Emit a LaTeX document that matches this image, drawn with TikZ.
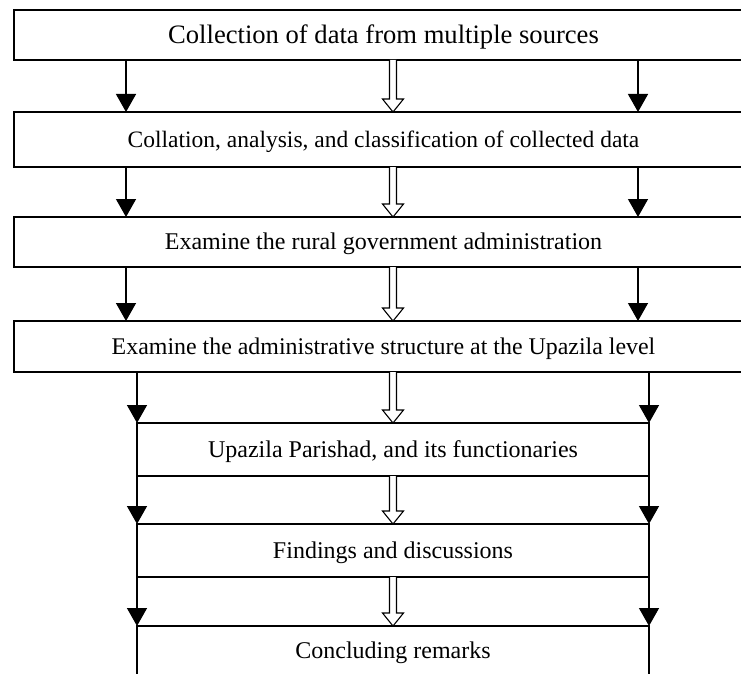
\documentclass[tikz,border=0pt]{standalone}
\usepackage{fontspec}
\setmainfont{Liberation Serif}
\usetikzlibrary{arrows.meta,calc}
\begin{document}
\begin{tikzpicture}[x=1pt,y=-1pt,
  box/.style={draw,line width=1.4pt,rectangle,inner sep=0pt,outer sep=0pt,text depth=0pt,align=center},
  wide/.style={box,minimum width=739pt},
  narrow/.style={box,minimum width=512pt},
  fs/.style={font=\fontsize{#1pt}{#1pt}\selectfont,text height={0.66*#1pt}},
  arr/.style={line width=1.4pt,-{Triangle[length=18pt,width=20pt]}},
  hollowline/.style={line width=1.1pt,fill=white,line join=miter}]
\useasboundingbox (0,0) rectangle (741,674);
\newcommand{\hollowarrow}[2]{%
  \path (#1.south -| xm) coordinate (hs) (#2.north -| xm) coordinate (ht);
  \draw[hollowline] ([xshift=-3.5pt]hs) -- ([xshift=-3.5pt,yshift=13pt]ht) -- ([xshift=-10.5pt,yshift=13pt]ht) -- (ht) -- ([xshift=10.5pt,yshift=13pt]ht) -- ([xshift=3.5pt,yshift=13pt]ht) -- ([xshift=3.5pt]hs);}
\coordinate (xl) at (126,0);
\coordinate (xr) at (638,0);
\coordinate (xm) at (393,0);

\node[wide,minimum height=50pt,fs=26.6] (b1) at (383.5,35) {Collection of data from multiple sources};
\node[wide,minimum height=55pt,fs=23.5] (b2) at (383.5,139.5) {Collation, analysis, and classification of collected data};
\node[wide,minimum height=50pt,fs=24] (b3) at (383.5,242) {Examine the rural government administration};
\node[wide,minimum height=51pt,fs=23.9] (b4) at (383.5,346.5) {Examine the administrative structure at the Upazila level};
\node[narrow,minimum height=53pt,fs=24] (b5) at (393,449.5) {Upazila Parishad, and its functionaries};
\node[narrow,minimum height=53pt,fs=24] (b6) at (393,550.5) {Findings and discussions};
\node[narrow,minimum height=50pt,fs=24] (b7) at (393,651) {Concluding remarks};

\foreach \a/\b in {b1/b2,b2/b3,b3/b4}{
  \draw[arr] (\a.south -| xl) -- (\b.north -| xl);
  \draw[arr] (\a.south -| xr) -- (\b.north -| xr);
}
\foreach \a/\b in {b4/b5,b5/b6,b6/b7}{
  \draw[arr] (\a.south -| \b.west) -- (\b.north west);
  \draw[arr] (\a.south -| \b.east) -- (\b.north east);
}
\hollowarrow{b1}{b2}
\hollowarrow{b2}{b3}
\hollowarrow{b3}{b4}
\hollowarrow{b4}{b5}
\hollowarrow{b5}{b6}
\hollowarrow{b6}{b7}
\end{tikzpicture}
\end{document}
